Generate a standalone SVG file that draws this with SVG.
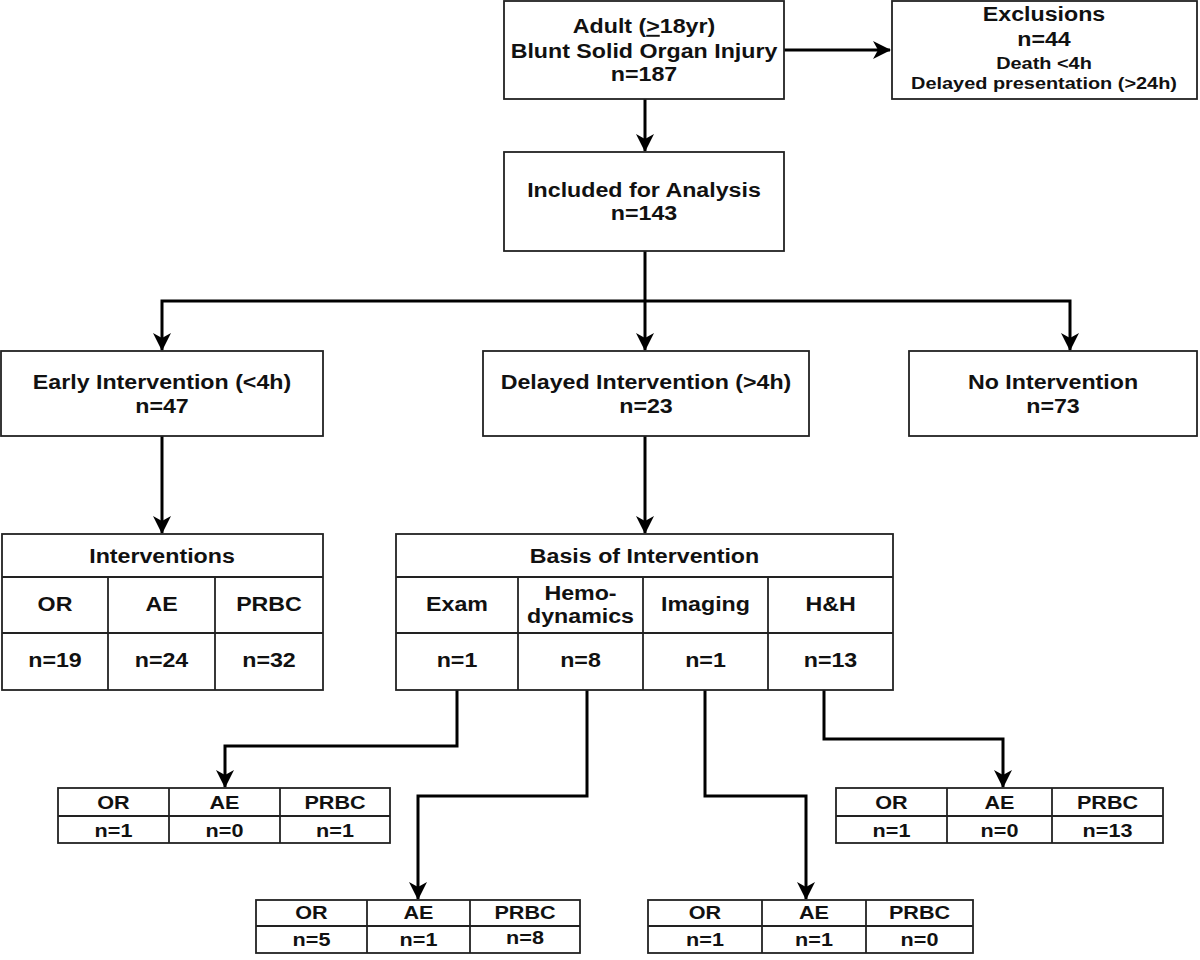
<svg xmlns="http://www.w3.org/2000/svg" width="1200" height="960" viewBox="0 0 1200 960">
<style>
rect{fill:#fff;stroke:#222;stroke-width:1.8}
line.g{stroke:#222;stroke-width:1.8}
.c path{fill:none;stroke:#000;stroke-width:3;marker-end:url(#ah)}
text{font-family:"Liberation Sans",Arial,sans-serif;font-weight:bold;fill:#111;text-anchor:middle}
.b{font-size:19.5px}
.m{font-size:17px}
.s{font-size:18px}
</style>
<defs>
<marker id="ah" markerUnits="userSpaceOnUse" viewBox="0 0 18 18" refX="17" refY="9" markerWidth="18" markerHeight="18" orient="auto">
<path d="M0,0 L18,9 L0,18 L5,9 z" fill="#000"/>
</marker>
</defs>
<rect x="0" y="0" width="1200" height="960" style="stroke:none"/>

<g class="c" id="connectors">
<path d="M784,50 H890"/>
<path d="M645,99 V151"/>
<path d="M645,251 V350"/>
<path d="M645,301 H162 V350"/>
<path d="M645,301 H1070 V350"/>
<path d="M162,436 V533"/>
<path d="M645,436 V533"/>
<path d="M457,690 V746 H225 V787"/>
<path d="M587,690 V796 H418 V899"/>
<path d="M705,690 V796 H806 V899"/>
<path d="M824,690 V739 H1003 V787"/>
</g>

<g id="adult">
<rect x="504" y="1" width="280" height="98"/>
<text class="b" transform="matrix(1.19 0 0 1 644 33)">Adult (<tspan text-decoration="underline">&gt;</tspan>18yr)</text>
<text class="b" transform="matrix(1.19 0 0 1 644 58)">Blunt Solid Organ Injury</text>
<text class="b" transform="matrix(1.19 0 0 1 644 81)">n=187</text>
</g>

<g id="exclusions">
<rect x="892" y="1" width="305" height="98"/>
<text class="b" transform="matrix(1.19 0 0 1 1044 21)">Exclusions</text>
<text class="b" transform="matrix(1.19 0 0 1 1044 46)">n=44</text>
<text class="m" transform="matrix(1.17 0 0 1 1044 69)">Death &lt;4h</text>
<text class="m" transform="matrix(1.17 0 0 1 1044 89)">Delayed presentation (&gt;24h)</text>
</g>

<g id="included">
<rect x="504" y="152" width="280" height="99"/>
<text class="b" transform="matrix(1.19 0 0 1 644 197)">Included for Analysis</text>
<text class="b" transform="matrix(1.19 0 0 1 644 220)">n=143</text>
</g>

<g id="early">
<rect x="1" y="351" width="322" height="85"/>
<text class="b" transform="matrix(1.19 0 0 1 162 389)">Early Intervention (&lt;4h)</text>
<text class="b" transform="matrix(1.19 0 0 1 162 413)">n=47</text>
</g>

<g id="delayed">
<rect x="483" y="351" width="326" height="85"/>
<text class="b" transform="matrix(1.19 0 0 1 646 389)">Delayed Intervention (&gt;4h)</text>
<text class="b" transform="matrix(1.19 0 0 1 646 413)">n=23</text>
</g>

<g id="none">
<rect x="909" y="351" width="288" height="85"/>
<text class="b" transform="matrix(1.19 0 0 1 1053 389)">No Intervention</text>
<text class="b" transform="matrix(1.19 0 0 1 1053 413)">n=73</text>
</g>

<g id="interventions">
<rect x="2" y="534" width="321" height="156"/>
<line class="g" x1="2" y1="577" x2="323" y2="577"/>
<line class="g" x1="2" y1="633" x2="323" y2="633"/>
<line class="g" x1="108" y1="577" x2="108" y2="690"/>
<line class="g" x1="215" y1="577" x2="215" y2="690"/>
<text class="b" transform="matrix(1.19 0 0 1 162 563)">Interventions</text>
<text class="b" transform="matrix(1.19 0 0 1 55 611)">OR</text>
<text class="b" transform="matrix(1.19 0 0 1 161.5 611)">AE</text>
<text class="b" transform="matrix(1.19 0 0 1 269 611)">PRBC</text>
<text class="b" transform="matrix(1.19 0 0 1 55 667)">n=19</text>
<text class="b" transform="matrix(1.19 0 0 1 161.5 667)">n=24</text>
<text class="b" transform="matrix(1.19 0 0 1 269 667)">n=32</text>
</g>

<g id="basis">
<rect x="396" y="534" width="497" height="156"/>
<line class="g" x1="396" y1="577" x2="893" y2="577"/>
<line class="g" x1="396" y1="633" x2="893" y2="633"/>
<line class="g" x1="518" y1="577" x2="518" y2="690"/>
<line class="g" x1="643" y1="577" x2="643" y2="690"/>
<line class="g" x1="768" y1="577" x2="768" y2="690"/>
<text class="b" transform="matrix(1.19 0 0 1 644.5 563)">Basis of Intervention</text>
<text class="b" transform="matrix(1.19 0 0 1 457 611)">Exam</text>
<text class="b" transform="matrix(1.19 0 0 1 580.5 600)">Hemo-</text>
<text class="b" transform="matrix(1.19 0 0 1 580.5 623)">dynamics</text>
<text class="b" transform="matrix(1.19 0 0 1 705.5 611)">Imaging</text>
<text class="b" transform="matrix(1.19 0 0 1 830.5 611)">H&amp;H</text>
<text class="b" transform="matrix(1.19 0 0 1 457 667)">n=1</text>
<text class="b" transform="matrix(1.19 0 0 1 580.5 667)">n=8</text>
<text class="b" transform="matrix(1.19 0 0 1 705.5 667)">n=1</text>
<text class="b" transform="matrix(1.19 0 0 1 830.5 667)">n=13</text>
</g>

<g id="exam-out">
<rect x="58" y="788" width="332" height="55"/>
<line class="g" x1="58" y1="816" x2="390" y2="816"/>
<line class="g" x1="169" y1="788" x2="169" y2="843"/>
<line class="g" x1="280" y1="788" x2="280" y2="843"/>
<text class="s" transform="matrix(1.2 0 0 1 113.5 809)">OR</text>
<text class="s" transform="matrix(1.2 0 0 1 224.5 809)">AE</text>
<text class="s" transform="matrix(1.2 0 0 1 335 809)">PRBC</text>
<text class="s" transform="matrix(1.2 0 0 1 113.5 837)">n=1</text>
<text class="s" transform="matrix(1.2 0 0 1 224.5 837)">n=0</text>
<text class="s" transform="matrix(1.2 0 0 1 335 837)">n=1</text>
</g>

<g id="hemo-out">
<rect x="256" y="900" width="324" height="53"/>
<line class="g" x1="256" y1="926" x2="580" y2="926"/>
<line class="g" x1="367" y1="900" x2="367" y2="953"/>
<line class="g" x1="470" y1="900" x2="470" y2="953"/>
<text class="s" transform="matrix(1.2 0 0 1 311.5 919)">OR</text>
<text class="s" transform="matrix(1.2 0 0 1 418.5 919)">AE</text>
<text class="s" transform="matrix(1.2 0 0 1 525 919)">PRBC</text>
<text class="s" transform="matrix(1.2 0 0 1 311.5 946)">n=5</text>
<text class="s" transform="matrix(1.2 0 0 1 418.5 946)">n=1</text>
<text class="s" transform="matrix(1.2 0 0 1 525 944)">n=8</text>
</g>

<g id="imaging-out">
<rect x="648" y="900" width="325" height="53"/>
<line class="g" x1="648" y1="926" x2="973" y2="926"/>
<line class="g" x1="762" y1="900" x2="762" y2="953"/>
<line class="g" x1="866" y1="900" x2="866" y2="953"/>
<text class="s" transform="matrix(1.2 0 0 1 705 919)">OR</text>
<text class="s" transform="matrix(1.2 0 0 1 814 919)">AE</text>
<text class="s" transform="matrix(1.2 0 0 1 919.5 919)">PRBC</text>
<text class="s" transform="matrix(1.2 0 0 1 705 946)">n=1</text>
<text class="s" transform="matrix(1.2 0 0 1 814 946)">n=1</text>
<text class="s" transform="matrix(1.2 0 0 1 919.5 946)">n=0</text>
</g>

<g id="hh-out">
<rect x="836" y="788" width="327" height="55"/>
<line class="g" x1="836" y1="816" x2="1163" y2="816"/>
<line class="g" x1="947" y1="788" x2="947" y2="843"/>
<line class="g" x1="1052" y1="788" x2="1052" y2="843"/>
<text class="s" transform="matrix(1.2 0 0 1 891.5 809)">OR</text>
<text class="s" transform="matrix(1.2 0 0 1 999.5 809)">AE</text>
<text class="s" transform="matrix(1.2 0 0 1 1107.5 809)">PRBC</text>
<text class="s" transform="matrix(1.2 0 0 1 891.5 837)">n=1</text>
<text class="s" transform="matrix(1.2 0 0 1 999.5 837)">n=0</text>
<text class="s" transform="matrix(1.2 0 0 1 1107.5 837)">n=13</text>
</g>
</svg>
